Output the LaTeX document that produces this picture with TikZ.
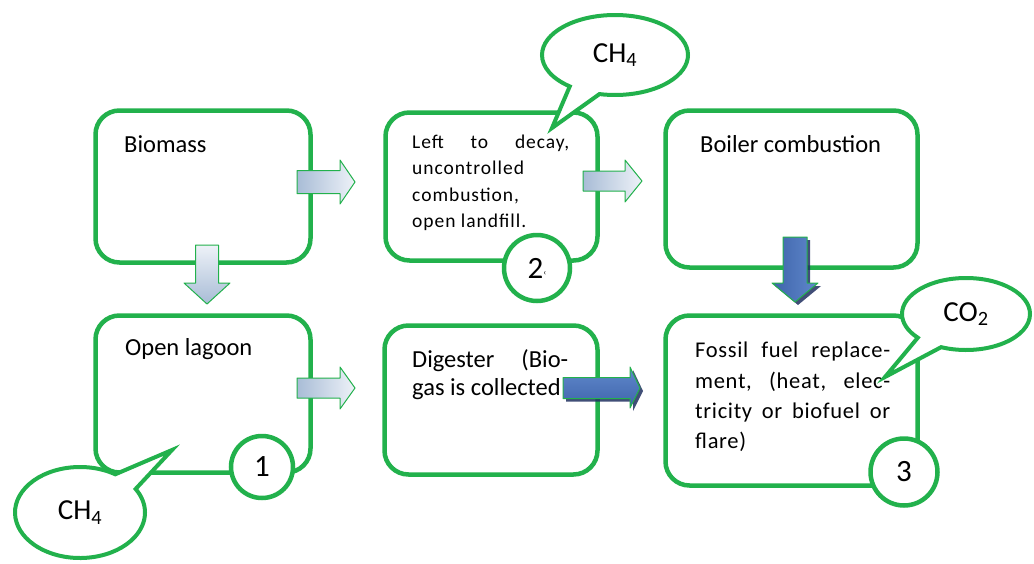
\documentclass[tikz,border=0pt]{standalone}
\usepackage{fontspec}
\setmainfont{Carlito}
\newfontfamily\spacedfont[LetterSpace=5]{Carlito}
\newfontfamily\lspacedfont[LetterSpace=3]{Carlito}
\usetikzlibrary{shapes.callouts,calc}
\definecolor{bgreen}{RGB}{34,177,76}
\definecolor{lightA}{RGB}{168,188,214}
\definecolor{lightB}{RGB}{238,242,248}
\definecolor{darkA}{RGB}{96,136,204}
\definecolor{darkB}{RGB}{62,100,170}
\definecolor{darkS}{RGB}{32,48,96}
\begin{document}
\begin{tikzpicture}[x=1pt,y=-1pt,
  box/.style={draw=bgreen, line width=4.5pt, rounded corners=24pt, fill=white, inner sep=0pt},
  numc/.style={circle, draw=bgreen, line width=4.5pt, fill=white, inner sep=0pt, minimum size=#1, font=\fontsize{31}{33}\selectfont},
  bubble/.style={ellipse callout, draw=bgreen, line width=4pt, fill=white, inner sep=0pt, callout pointer arc=26, font=\fontsize{29}{32}\selectfont},
  txt/.style={anchor=base west, inner sep=0pt, font=\fontsize{24.5}{28}\selectfont},
  stxt/.style={anchor=base west, inner sep=0pt, font=\fontsize{19.5}{24}\spacedfont},
  ftxt/.style={anchor=base west, inner sep=0pt, font=\fontsize{22.5}{26}\lspacedfont},
  larrow/.style={draw=bgreen, line width=1pt, line join=round},
  darrow/.style={draw=bgreen, line width=1pt, line join=round, top color=darkA, bottom color=darkB},
  shadowp/.style={fill=darkS, opacity=0.85}
]
\useasboundingbox (0,0) rectangle (1034,563);
\fill[white] (0,0) rectangle (1034,563);

% boxes
\node[box, minimum width=215, minimum height=152] (b1) at (203,186.5) {};
\node[box, minimum width=212, minimum height=148] (b2) at (491.5,186.5) {};
\node[box, minimum width=252, minimum height=157] (b3) at (791.5,189) {};
\node[box, minimum width=215, minimum height=157] (b4) at (203,394) {};
\node[box, minimum width=213, minimum height=149] (b5) at (491,400) {};
\node[box, minimum width=252, minimum height=170] (b6) at (791.5,400.5) {};

% texts
\node[txt] (t1) at (124,152) {Biomass};
\node[stxt] (t2a) at (412,148) {\makebox[157pt][s]{Left to decay,}};
\node[stxt] (t2b) at (412,174.5) {uncontrolled};
\node[stxt] (t2c) at (412,201) {combustion,};
\node[stxt] (t2d) at (412,227) {open landfill.};
\node[txt] (t3) at (700,152) {Boiler combustion};
\node[txt] (t4) at (125,355) {Open lagoon};
\node[txt] (t5a) at (412,367) {\makebox[156pt][s]{Digester (Bio-}};
\node[txt] (t5b) at (412,395) {gas is collected};
\node[ftxt] (t6a) at (695,357) {\makebox[195pt][s]{Fossil fuel replace-}};
\node[ftxt] (t6b) at (695,388) {\makebox[195pt][s]{ment, (heat, elec-}};
\node[ftxt] (t6c) at (695,418) {\makebox[195pt][s]{tricity or biofuel or}};
\node[ftxt] (t6d) at (695,448) {flare)};

% light arrows
\draw[larrow, left color=lightA, right color=lightB]
  (297,170.5) -- (340,170.5) -- (340,160) -- (355,182) -- (340,204) -- (340,193.5) -- (297,193.5) -- cycle;
\draw[larrow, left color=lightA, right color=lightB]
  (583,171) -- (625,171) -- (625,160) -- (642,181) -- (625,202) -- (625,191) -- (583,191) -- cycle;
\draw[larrow, left color=lightA, right color=lightB]
  (297,378) -- (340,378) -- (340,367) -- (355,388) -- (340,409) -- (340,398) -- (297,398) -- cycle;
\draw[larrow, top color=lightB, bottom color=lightA]
  (195.5,245) -- (218.5,245) -- (218.5,283) -- (230,283) -- (207,304) -- (184,283) -- (195.5,283) -- cycle;

% dark arrows (shadows then arrows)
\fill[shadowp]
  (786,240) -- (810,240) -- (810,286) -- (821,286) -- (798,305) -- (775,286) -- (786,286) -- cycle;
\draw[darrow, left color=darkB, right color=darkA]
  (783,237) -- (807,237) -- (807,283) -- (818,283) -- (795,302) -- (772,283) -- (783,283) -- cycle;
\fill[shadowp]
  (566,380.5) -- (633,380.5) -- (633,370) -- (643,391) -- (633,411) -- (633,401.5) -- (566,401.5) -- cycle;
\draw[darrow]
  (563,377.5) -- (630,377.5) -- (630,367) -- (640,388) -- (630,408) -- (630,398.5) -- (563,398.5) -- cycle;

% numbered circles
\node[numc=62] (c1) at (262,467) {1};
\node[numc=66] (c2) at (537,268) {2\raisebox{3pt}{\fontsize{9}{9}\selectfont ‹}};
\node[numc=67] (c3) at (904,472) {3};

% callouts
\coordinate (p1) at (552,128);
\coordinate (p2) at (172,450);
\coordinate (p3) at (885,377);
\node[bubble, minimum width=146, minimum height=80, callout absolute pointer={(p1)}] (e1) at (615,55) {CH\textsubscript{4}};
\node[bubble, minimum width=130, minimum height=91, callout absolute pointer={(p2)}] (e2) at (80,512.5) {CH\textsubscript{4}};
\node[bubble, minimum width=128, minimum height=72, callout absolute pointer={(p3)}] (e3) at (966,314) {CO\textsubscript{2}};
\end{tikzpicture}
\end{document}
